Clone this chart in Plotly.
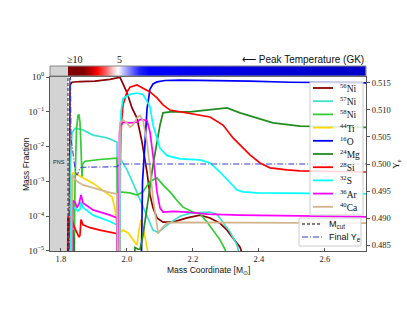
import numpy as np
import plotly.graph_objects as go

# ---------------- data (mass coordinate [Msun], log10 mass fraction) ----------------
M_CUT = 1.8215
X_RANGE = [1.767, 2.7245]
Y_LOG_RANGE = [-5, 0]
YE_RANGE = [0.4839, 0.5161]

NI56 = [(1.8246, -6), (1.8276, -0.23), (1.8337, -0.15), (1.8579, -0.13), (1.9034, -0.12),
        (1.9488, -0.07), (1.9731, -0.02), (1.9791, -0.01), (1.9882, -0.2), (2.0003, -0.45),
        (2.0155, -0.89), (2.0306, -1.18), (2.0458, -1.87), (2.0609, -2.73), (2.0700, -3.39),
        (2.0791, -3.76), (2.0912, -4.05), (2.1094, -4.17), (2.1397, -4.17), (2.1821, -4.05),
        (2.2215, -3.97), (2.2518, -4.05), (2.2821, -4.2), (2.3034, -4.4), (2.3215, -4.63),
        (2.3428, -4.89), (2.3579, -5.3)]
NI57 = [(1.8261, -6), (1.8291, -2.5), (1.8337, -1.6), (1.8428, -1.47), (1.8670, -1.52),
        (1.8973, -1.67), (1.9397, -1.75), (1.9700, -1.87), (1.9731, -6), (1.9776, -6),
        (1.9791, -2.33), (2.0003, -2.67), (2.0185, -3.05), (2.0397, -3.5), (2.0609, -4.0),
        (2.0791, -4.4), (2.0943, -4.47), (2.1094, -4.35), (2.1367, -4.15), (2.1609, -4.0),
        (2.1912, -3.92), (2.2215, -3.9), (2.2518, -3.88), (2.2730, -3.95), (2.2912, -4.17),
        (2.3125, -4.45), (2.3337, -4.83), (2.3458, -5.3)]
NI58 = [(1.8397, -6), (1.8428, -3.0), (1.8473, -1.5), (1.8518, -1.1), (1.8549, -1.09),
        (1.8579, -1.3), (1.8609, -2.0), (1.8640, -2.9), (1.8655, -2.5), (1.8731, -2.42),
        (1.9185, -2.37), (1.9700, -2.33), (1.9731, -6), (1.9776, -6), (1.9791, -3.3),
        (2.0094, -3.33), (2.0306, -3.39), (2.0488, -3.3), (2.0700, -3.0), (2.0912, -2.9),
        (2.1094, -3.1), (2.1306, -3.3), (2.1518, -3.55), (2.1700, -3.74), (2.2003, -3.88),
        (2.2215, -3.93), (2.2428, -4.17), (2.2609, -4.42), (2.2821, -4.68), (2.2973, -4.95),
        (2.3064, -5.3)]
TI44 = [(1.8337, -6), (1.8367, -2.76), (1.8488, -2.8), (1.8670, -2.9), (1.8973, -3.05),
        (1.9337, -3.3), (1.9549, -3.45), (1.9640, -3.8), (1.9700, -4.3), (1.9731, -6),
        (1.9776, -6), (1.9791, -4.48), (1.9882, -4.4), (2.0034, -4.48), (2.0185, -4.68),
        (2.0306, -4.83), (2.0367, -4.4), (2.0428, -4.1), (2.0488, -4.3), (2.0579, -4.75),
        (2.0670, -5.1), (2.0730, -5.5)]
O16 = [(2.0428, -6), (2.0473, -3.0), (2.0549, -1.9), (2.0609, -0.92), (2.0700, -0.35),
       (2.0791, -0.2), (2.0912, -0.14), (2.1155, -0.1), (2.1609, -0.09), (2.2518, -0.1),
       (2.3730, -0.12), (2.4943, -0.15), (2.7245, -0.17)]
MG24 = [(1.8337, -6), (1.8367, -4.4), (1.8397, -4.6), (1.8428, -6), (None, None),
        (2.0185, -6), (2.0246, -4.9), (2.0337, -4.95), (2.0397, -4.95), (2.0458, -4.7),
        (2.0488, -4.54), (2.0609, -3.76), (2.0700, -3.1), (2.0791, -2.53), (2.0912, -1.87),
        (2.1003, -1.38), (2.1094, -1.03), (2.1306, -1.0), (2.1912, -1.0), (2.2518, -0.95),
        (2.3034, -0.89), (2.3428, -1.03), (2.3943, -1.18), (2.4428, -1.32), (2.5245, -1.41),
        (2.7245, -1.45)]
SI28 = [(1.8200, -6), (1.8215, -4.0), (1.8246, -4.1), (1.8276, -4.5), (1.8306, -6),
        (1.8322, -4.0), (1.8397, -4.3), (1.8488, -4.5), (1.8549, -4.6), (1.8579, -4.55),
        (1.8609, -4.1), (1.8670, -4.25), (1.8882, -4.33), (1.9185, -4.4), (1.9488, -4.45),
        (1.9700, -4.5), (1.9731, -6), (1.9776, -6), (1.9791, -2.5), (1.9837, -1.3),
        (1.9882, -0.8), (2.0003, -0.43), (2.0094, -0.29), (2.0306, -0.23), (2.0488, -0.32),
        (2.0700, -0.43), (2.0912, -0.6), (2.1094, -0.8), (2.1306, -0.95), (2.1821, -1.03),
        (2.2215, -1.09), (2.2518, -1.15), (2.2912, -1.38), (2.3215, -1.75), (2.3428, -1.95),
        (2.3730, -2.24), (2.4034, -2.47), (2.4337, -2.61), (2.4852, -2.67), (2.5245, -2.7),
        (2.7245, -2.73)]
S32 = [(1.8261, -6), (1.8291, -4.5), (1.8337, -3.8), (1.8428, -3.76), (1.8518, -3.85),
       (1.8579, -3.8), (1.8609, -3.59), (1.8670, -3.75), (1.8973, -3.97), (1.9488, -4.15),
       (1.9700, -4.25), (1.9731, -6), (1.9776, -6), (1.9806, -2.0), (1.9821, -1.0),
       (1.9882, -0.62), (2.0094, -0.5), (2.0306, -0.46), (2.0488, -0.5), (2.0700, -0.85),
       (2.0791, -1.38), (2.0912, -1.75), (2.1003, -2.05), (2.1215, -2.26), (2.1609, -2.35),
       (2.2215, -2.38), (2.2518, -2.47), (2.2821, -2.73), (2.3125, -3.02), (2.3337, -3.25),
       (2.3518, -3.3), (2.3943, -3.33), (2.7245, -3.36)]
AR36 = [(1.8322, -6), (1.8367, -3.55), (1.8428, -3.6), (1.8488, -3.75), (1.8549, -3.65),
        (1.8609, -3.39), (1.8670, -3.62), (1.8973, -3.82), (1.9488, -3.97), (1.9700, -4.05),
        (1.9721, -6), (1.9751, -6), (1.9776, -1.6), (1.9791, -1.44), (1.9882, -1.3),
        (2.0094, -1.32), (2.0306, -1.3), (2.0397, -1.22), (2.0609, -1.25), (2.0700, -1.58),
        (2.0791, -2.25), (2.0912, -3.3), (2.1003, -3.76), (2.1094, -3.88), (2.1397, -3.86),
        (2.1821, -3.88), (2.2428, -3.94), (2.3428, -3.97), (2.5245, -3.99), (2.7245, -4.02)]
CA40 = [(1.8322, -6), (1.8337, -2.8), (1.8367, -2.87), (1.8488, -3.0), (1.8670, -3.1),
        (1.8973, -3.19), (1.9397, -3.3), (1.9700, -3.36), (1.9731, -6), (1.9776, -6),
        (1.9791, -1.3), (1.9882, -1.24), (2.0003, -1.32), (2.0094, -1.44), (2.0185, -1.38),
        (2.0306, -1.18), (2.0397, -1.1), (2.0488, -1.25), (2.0609, -1.87), (2.0700, -2.61),
        (2.0791, -3.48), (2.0912, -4.25), (2.0943, -4.5), (2.1064, -4.34), (2.1215, -4.2),
        (2.1518, -4.18), (2.2215, -4.18), (2.7245, -4.2)]

# final electron fraction profile
YE = [(1.8246, 0.47), (1.8276, 0.53), (1.8306, 0.5045), (1.8337, 0.5035), (1.8397, 0.5005),
      (1.8458, 0.4982), (1.8488, 0.4980), (1.8518, 0.4983), (1.8579, 0.4993), (1.8640, 0.4994),
      (1.9700, 0.4995), (1.9776, 0.5000), (2.7245, 0.5000)]

# peak temperature [GK] along the mass coordinate (top colour strip)
PEAK_T = [(1.8215, 12.0), (1.835, 10.8), (1.85, 10.3), (1.87, 9.8), (1.89, 8.7), (1.91, 7.5),
          (1.935, 6.5), (1.955, 5.6), (1.972, 5.0), (1.985, 4.5), (2.0, 4.0), (2.02, 3.3),
          (2.04, 2.8), (2.07, 2.5), (2.15, 2.4), (2.25, 2.2), (2.4, 2.0), (2.55, 1.85),
          (2.7245, 1.7)]

SPECIES = ["<sup>56</sup>Ni", "<sup>57</sup>Ni", "<sup>58</sup>Ni", "<sup>44</sup>Ti", "<sup>16</sup>O",
           "<sup>24</sup>Mg", "<sup>28</sup>Si", "<sup>32</sup>S", "<sup>36</sup>Ar", "<sup>40</sup>Ca"]
SERIES = [NI56, NI57, NI58, TI44, O16, MG24, SI28, S32, AR36, CA40]
COLORS = ["#8B0000", "#40E0D0", "#32CD32", "#FFD700", "#0000FF",
          "#228B22", "#FF0000", "#00FFFF", "#FF00FF", "#D2B48C"]

X_TICKS = [1.8, 2.0, 2.2, 2.4, 2.6]
Y_TICKS = [1e-5, 1e-4, 1e-3, 1e-2, 1e-1, 1e0]
Y_TICKTEXT = ["10<sup>\u22125</sup>", "10<sup>\u22124</sup>", "10<sup>\u22123</sup>",
              "10<sup>\u22122</sup>", "10<sup>\u22121</sup>", "10<sup>0</sup>"]
YE_TICKS = [0.485, 0.490, 0.495, 0.500, 0.505, 0.510, 0.515]

SEISMIC = [[0.0, "rgb(0,0,77)"], [0.25, "rgb(0,0,255)"], [0.5, "rgb(255,255,255)"],
           [0.75, "rgb(255,0,0)"], [1.0, "rgb(128,0,0)"]]

SERIF = "Liberation Serif"
SANS = "Liberation Sans"
FRAME = "#555555"

# ---------------- figure ----------------
fig = go.Figure()


def unzip(pairs, log=True):
    xs = [p[0] for p in pairs]
    ys = [None if p[1] is None else (10 ** p[1] if log else p[1]) for p in pairs]
    return xs, ys


for name, data, col in zip(SPECIES, SERIES, COLORS):
    xs, ys = unzip(data)
    fig.add_trace(go.Scatter(x=xs, y=ys, mode="lines", name=name,
                             line=dict(color=col, width=1.7), xaxis="x", yaxis="y",
                             connectgaps=False, showlegend=False))

yx, yy = unzip(YE, log=False)
fig.add_trace(go.Scatter(x=yx, y=yy, mode="lines", name="Final Y<sub>e</sub>",
                         line=dict(color="#3c3cc8", width=1.1, dash="6px,2px,1px,2px"),
                         xaxis="x", yaxis="y2", showlegend=False))

tx = [p[0] for p in PEAK_T]
tz = [p[1] for p in PEAK_T]
fig.add_trace(go.Heatmap(x=tx, y=[0, 1], z=[tz, tz], colorscale=SEISMIC, zmin=0, zmax=10,
                         zsmooth="best", showscale=False, xaxis="x2", yaxis="y3",
                         hoverinfo="skip"))

MAIN_TOP = 0.9405
CB_BOTTOM = 0.946

fig.update_layout(
    width=407, height=315,
    margin=dict(l=50, r=41, t=66, b=64),
    paper_bgcolor="white", plot_bgcolor="white",
    showlegend=False,
    xaxis=dict(domain=[0, 1], anchor="y", range=X_RANGE, tickvals=X_TICKS, automargin=False,
               ticktext=[f"{v:.1f}" for v in X_TICKS], ticks="inside", ticklen=3,
               tickcolor=FRAME, tickfont=dict(family=SERIF, size=8.5, color="#222"),
               showline=True, linecolor=FRAME, linewidth=1, mirror=True,
               showgrid=False, zeroline=False),
    yaxis=dict(domain=[0, MAIN_TOP], anchor="x", type="log", range=Y_LOG_RANGE, automargin=False,
               tickvals=Y_TICKS, ticktext=Y_TICKTEXT, ticks="outside", ticklen=3,
               tickcolor=FRAME, tickfont=dict(family=SERIF, size=9, color="#222"),
               showline=True, linecolor=FRAME, linewidth=1, showgrid=False, zeroline=False),
    yaxis2=dict(overlaying="y", side="right", anchor="x", range=YE_RANGE, automargin=False,
                tickvals=YE_TICKS, ticktext=[f"{v:.3f}" for v in YE_TICKS],
                ticks="outside", ticklen=3, tickcolor=FRAME,
                tickfont=dict(family=SERIF, size=8.5, color="#222"),
                showline=True, linecolor=FRAME, linewidth=1, showgrid=False, zeroline=False,
                title=dict(text="Y<sub>e</sub>", font=dict(family=SERIF, size=9, color="#111"),
                           standoff=2)),
    xaxis2=dict(domain=[0, 1], anchor="y3", matches="x", showticklabels=False, ticks="",
                showgrid=False, zeroline=False, showline=False, automargin=False),
    yaxis3=dict(domain=[CB_BOTTOM, 1.0], anchor="x2", range=[0, 1], showticklabels=False,
                ticks="", showgrid=False, zeroline=False, showline=False, fixedrange=True,
                automargin=False),
)

shapes = [
    # proto-neutron star region
    dict(type="rect", xref="x", yref="y domain", x0=X_RANGE[0], x1=M_CUT, y0=0, y1=1,
         fillcolor="#d3d3d3", line=dict(width=0), layer="below"),
    # mass cut
    dict(type="line", xref="x", yref="y domain", x0=M_CUT, x1=M_CUT, y0=0, y1=1,
         line=dict(color="black", width=0.8, dash="3px,2px"), layer="above"),
    # grey part of temperature strip
    dict(type="rect", xref="x2", yref="y3 domain", x0=X_RANGE[0], x1=M_CUT, y0=0, y1=1,
         fillcolor="#d3d3d3", line=dict(width=0), layer="above"),
    dict(type="rect", xref="x2 domain", yref="y3 domain", x0=0, x1=1, y0=0, y1=1,
         line=dict(color="#888888", width=1), layer="above"),
]

# ---- pixel helpers for fixed-position texts / legend ----
PLOT_L, PLOT_W, PLOT_B, PLOT_H = 50, 316, 251, 185


def px_x(px):
    return (px - PLOT_L) / PLOT_W


def px_y(py):
    return (PLOT_B - py) / PLOT_H


annotations = [
    dict(text="Mass Coordinate [M<sub>\u2299</sub>]", x=0.5, y=px_y(270), xref="paper",
         yref="paper", xanchor="center", yanchor="middle", showarrow=False,
         font=dict(family=SANS, size=8.5, color="#111")),
    dict(text="Mass Fraction", x=px_x(26), y=0.5 * MAIN_TOP, xref="paper", yref="paper",
         xanchor="center", yanchor="middle", textangle=-90, showarrow=False,
         font=dict(family=SANS, size=8.5, color="#111")),
    dict(text="PNS", x=1.7943, y=-2.44, xref="x", yref="y", showarrow=False,
         font=dict(family=SANS, size=5.5, color="#222")),
    dict(text="\u226510", x=1.843, y=1.0, xref="x", yref="paper", yanchor="bottom",
         showarrow=False, font=dict(family=SERIF, size=10, color="#111"), yshift=-1),
    dict(text="5", x=1.979, y=1.0, xref="x", yref="paper", yanchor="bottom",
         showarrow=False, font=dict(family=SERIF, size=10, color="#111"), yshift=-1),
    dict(text="\u27f5 Peak Temperature (GK)", x=1.0, y=1.0, xref="paper", yref="paper",
         xanchor="right", yanchor="bottom", showarrow=False, yshift=-1,
         font=dict(family=SANS, size=10, color="#111")),
]

# ---- legend boxes (drawn to match the compact matplotlib legend spacing) ----
shapes.append(dict(type="rect", xref="paper", yref="paper", x0=px_x(310), x1=px_x(363),
                   y0=px_y(215), y1=px_y(82), fillcolor="rgba(255,255,255,0.85)",
                   line=dict(color="#cccccc", width=1), layer="above"))
for i, (name, col) in enumerate(zip(SPECIES, COLORS)):
    yc = px_y(88 + 13.2 * i)
    shapes.append(dict(type="line", xref="paper", yref="paper", x0=px_x(313), x1=px_x(333),
                       y0=yc, y1=yc, line=dict(color=col, width=1.8), layer="above"))
    annotations.append(dict(text=name, x=px_x(338), y=yc, xref="paper", yref="paper",
                            xanchor="left", yanchor="middle", showarrow=False,
                            font=dict(family=SERIF, size=9.5, color="#111")))

shapes.append(dict(type="rect", xref="paper", yref="paper", x0=px_x(299), x1=px_x(361),
                   y0=px_y(246), y1=px_y(218), fillcolor="rgba(255,255,255,0.85)",
                   line=dict(color="#cccccc", width=1), layer="above"))
for py, name, col, dash, w in [(224, "M<sub>cut</sub>", "black", "3px,2px", 1.0),
                               (237, "Final Y<sub>e</sub>", "#3c3cc8", "6px,2px,1px,2px", 1.1)]:
    yc = px_y(py)
    shapes.append(dict(type="line", xref="paper", yref="paper", x0=px_x(302), x1=px_x(322),
                       y0=yc, y1=yc, line=dict(color=col, width=w, dash=dash), layer="above"))
    annotations.append(dict(text=name, x=px_x(327), y=yc, xref="paper", yref="paper",
                            xanchor="left", yanchor="middle", showarrow=False,
                            font=dict(family=SANS, size=9, color="#111")))

fig.update_layout(shapes=shapes, annotations=annotations)
fig.write_html("out.html", config={"displayModeBar": False},
               post_script="document.body.style.margin='0px';")
